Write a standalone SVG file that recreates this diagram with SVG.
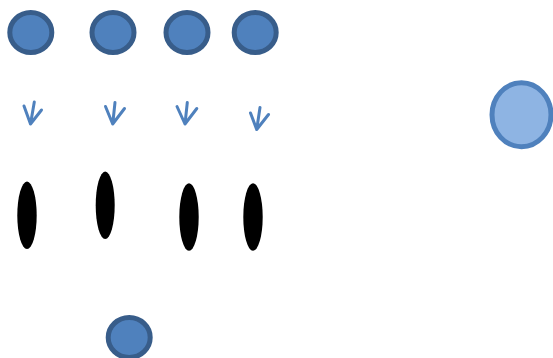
<svg xmlns="http://www.w3.org/2000/svg" width="553" height="358" viewBox="0 0 553 358">
<style>
.dot{fill:#4F81BD;stroke:#385D8A;stroke-width:5}
.big{fill:#8EB4E3;stroke:#4F81BD;stroke-width:5}
.blob{fill:#000}
.arr{fill:none;stroke:#4F81BD;stroke-width:3;stroke-linecap:round;stroke-linejoin:round}
</style>
<rect width="553" height="358" fill="#fff"/>
<g id="c1"><ellipse class="dot" cx="30.8" cy="32.5" rx="21" ry="20"/></g>
<g id="c2"><ellipse class="dot" cx="113" cy="32.5" rx="21" ry="20"/></g>
<g id="c3"><ellipse class="dot" cx="187" cy="32.5" rx="21" ry="20"/></g>
<g id="c4"><ellipse class="dot" cx="255.2" cy="32.5" rx="21" ry="20"/></g>
<g id="big"><ellipse class="big" cx="521.5" cy="114.7" rx="29.5" ry="32"/></g>
<g id="e1"><ellipse class="blob" cx="27" cy="215.3" rx="9.7" ry="33.7"/></g>
<g id="e2"><ellipse class="blob" cx="105.2" cy="205.3" rx="9.5" ry="33.7"/></g>
<g id="e3"><ellipse class="blob" cx="189" cy="217" rx="9.7" ry="33.7"/></g>
<g id="e4"><ellipse class="blob" cx="253" cy="217" rx="9.7" ry="33.7"/></g>
<g id="c5"><ellipse class="dot" cx="129.2" cy="337.5" rx="21" ry="20"/></g>
<g id="connectors">
<path class="arr" d="M34.3,102 L30.5,124 M24,106 L30.5,124 L41.5,110"/>
<path class="arr" d="M115,102.5 L112.7,124 M105.5,106.5 L112.7,124 L124.5,108.5"/>
<path class="arr" d="M187.3,102.5 L185,124 M177,106.5 L185,124 L196.8,108.5"/>
<path class="arr" d="M260,107.5 L256.7,129.5 M250.5,113 L256.7,129.5 L268.5,114.5"/>
</g>
</svg>
